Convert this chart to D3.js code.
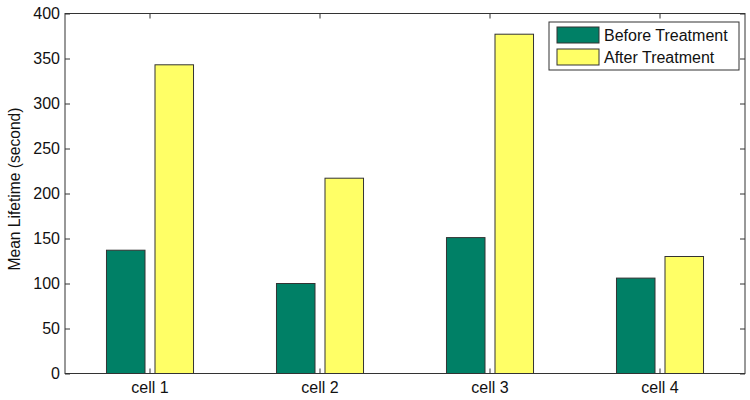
<!DOCTYPE html>
<html>
<head>
<meta charset="utf-8">
<script src="https://cdn.jsdelivr.net/npm/d3@7"></script>
<style>
body { margin: 0; background: #fff; }
svg { display: block; font-family: "Liberation Sans", Arial, sans-serif; }
</style>
</head>
<body>
<div id="chart"></div>
<script>
var width = 750
var height = 400
var margin = { top: 13.5, right: 5, bottom: 26.5, left: 65 };

var cells = ['cell 1', 'cell 2', 'cell 3', 'cell 4'];
var seriesNames = ['Before Treatment', 'After Treatment'];
var before = [137, 100, 151, 106];
var after = [343, 217, 377, 130];
var yTicks = [0, 50, 100, 150, 200, 250, 300, 350, 400];
var colors = ['#008066', '#ffff66'];

var svg = d3.select('#chart')
    .append('svg')
    .attr('width', width)
    .attr('height', height);

var chartWidth = width - margin.left - margin.right;
var chartHeight = height - margin.top - margin.bottom;

var g = svg.append('g')
    .attr('transform', 'translate(' + margin.left + ',' + margin.top + ')');

var x0 = d3.scaleBand()
    .domain(cells)
    .range([0, chartWidth])
    .padding(0);

var bw = x0.bandwidth();
var x1 = d3.scaleBand()
    .domain(seriesNames)
    .range([bw / 2 - 0.256 * bw, bw / 2 + 0.256 * bw])
    .paddingInner(0.206)
    .paddingOuter(0);

var y = d3.scaleLinear()
    .domain([0, 400])
    .range([chartHeight, 0]);

// long format rows
var rows = [];
for (var i = 0; i < cells.length; i++) {
    rows.push({ cell: cells[i], series: seriesNames[0], value: before[i], k: 0 });
    rows.push({ cell: cells[i], series: seriesNames[1], value: after[i], k: 1 });
}

g.selectAll('.bar')
    .data(rows)
    .enter().append('rect')
    .attr('class', 'bar')
    .attr('x', function(d) { return x0(d.cell) + x1(d.series); })
    .attr('width', x1.bandwidth())
    .attr('y', function(d) { return y(d.value); })
    .attr('height', function(d) { return chartHeight - y(d.value); })
    .style('fill', function(d) { return colors[d.k]; })
    .style('stroke', '#333')
    .style('stroke-width', 1);

// axes, MATLAB style: ticks pointing inward
var axisColor = '#333';

var yAxis = g.append('g')
    .call(d3.axisLeft(y).tickValues(yTicks).tickSizeInner(-5).tickSizeOuter(0).tickPadding(5));
var yAxisR = g.append('g')
    .attr('transform', 'translate(' + chartWidth + ',0)')
    .call(d3.axisRight(y).tickValues(yTicks).tickSizeInner(-5).tickSizeOuter(0).tickFormat(''));
var xAxis = g.append('g')
    .attr('transform', 'translate(0,' + chartHeight + ')')
    .call(d3.axisBottom(x0).tickSizeInner(-5).tickSizeOuter(0).tickPadding(8));
var xAxisT = g.append('g')
    .call(d3.axisTop(x0).tickSizeInner(-5).tickSizeOuter(0).tickFormat(''));

[yAxis, yAxisR, xAxis, xAxisT].forEach(function(a) {
    a.selectAll('.domain').remove();
    a.selectAll('line').attr('stroke', axisColor);
    a.selectAll('text')
        .attr('fill', '#111')
        .style('font-size', '16px')
        .style('font-family', '"Liberation Sans", Arial, sans-serif');
});

g.append('rect')
    .attr('x', 0)
    .attr('y', 0)
    .attr('width', chartWidth)
    .attr('height', chartHeight)
    .style('fill', 'none')
    .style('stroke', axisColor)
    .style('stroke-width', 1);

// y label
svg.append('text')
    .attr('transform', 'translate(20,189) rotate(-90)')
    .attr('text-anchor', 'middle')
    .style('font-size', '15.6px')
    .style('fill', '#111')
    .text('Mean Lifetime (second)');

// legend
var legend = svg.append('g').attr('transform', 'translate(549,22)');
legend.append('rect')
    .attr('width', 190)
    .attr('height', 48)
    .style('fill', '#fff')
    .style('stroke', axisColor);

var items = legend.selectAll('.item')
    .data(seriesNames)
    .enter().append('g')
    .attr('transform', function(d, i) { return 'translate(8,' + (5 + i * 22) + ')'; });
items.append('rect')
    .attr('width', 42)
    .attr('height', 16)
    .style('fill', function(d, i) { return colors[i]; })
    .style('stroke', '#333');
items.append('text')
    .attr('x', 47)
    .attr('y', 14)
    .style('font-size', '16px')
    .style('fill', '#111')
    .text(function(d) { return d; });
</script>
</body>
</html>
